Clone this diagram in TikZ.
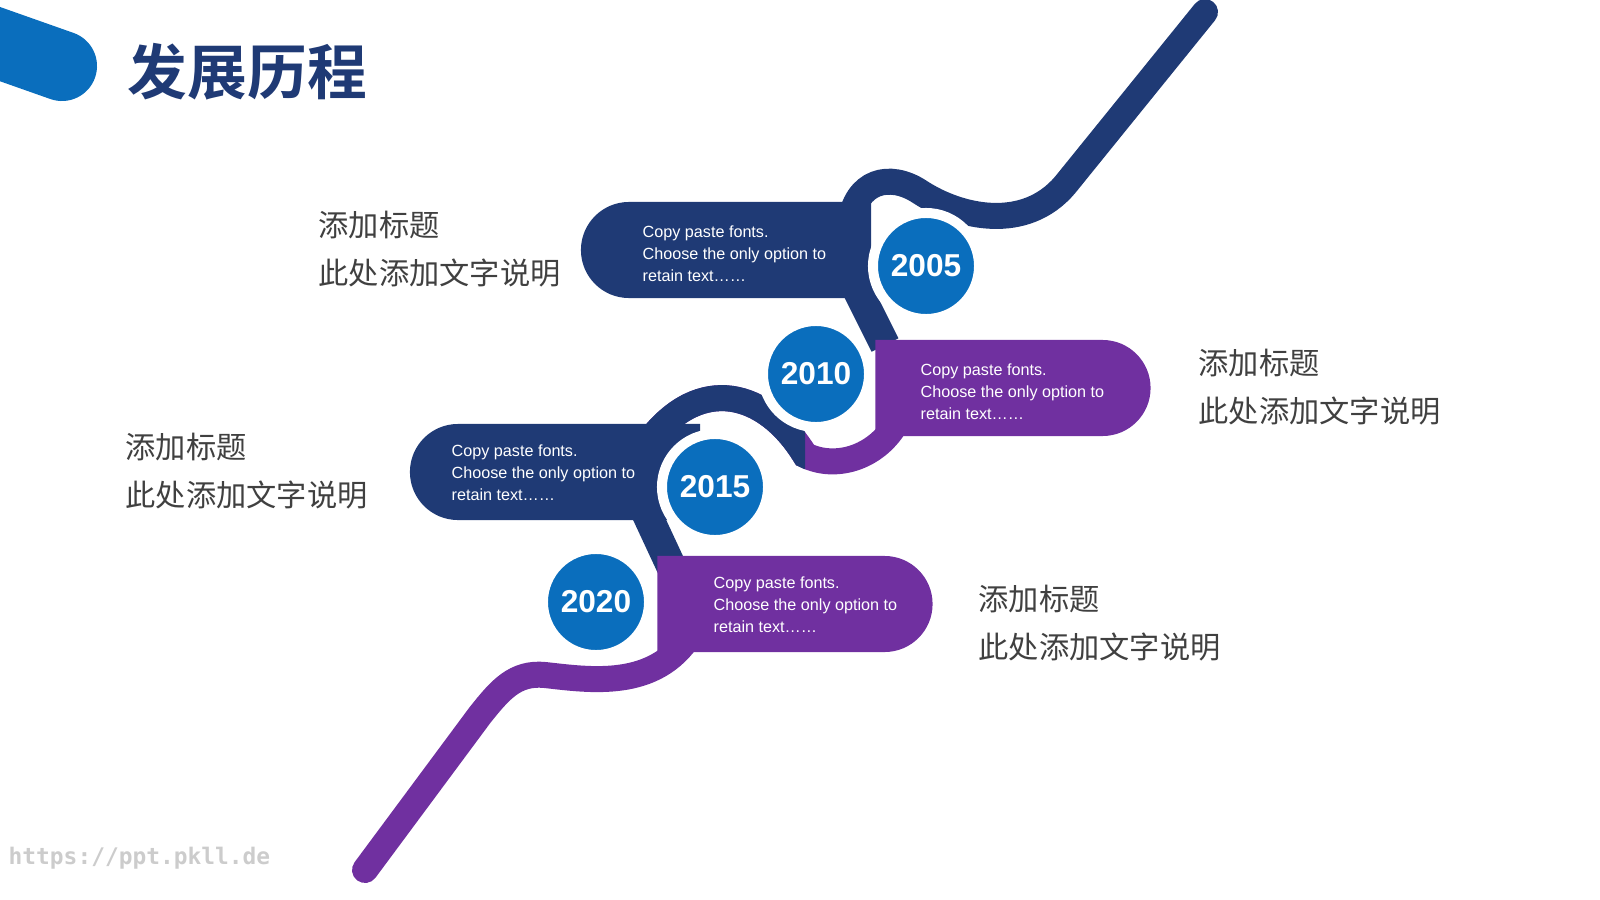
\documentclass[tikz,border=0pt]{standalone}
\usepackage{fontspec}
\setmainfont{Liberation Sans}
\newfontfamily\cjk{Noto Sans CJK SC}
\newfontfamily\cjkbold{Noto Sans CJK SC Bold}
\newfontfamily\markfont{DejaVu Sans Mono}
\usetikzlibrary{shapes.misc}
\definecolor{navy}{HTML}{1F3A75}
\definecolor{purp}{HTML}{7030A0}
\definecolor{yearblue}{HTML}{0A6EBD}
\definecolor{labelgray}{HTML}{404040}
\tikzset{
  band/.style={line width=0.26cm, line cap=round},
  pillL/.style={rounded rectangle, rounded rectangle east arc=none, minimum width=2.9cm, minimum height=0.96cm, inner sep=0pt},
  pillR/.style={rounded rectangle, rounded rectangle west arc=none, minimum width=2.75cm, minimum height=0.96cm, inner sep=0pt},
  pilltext/.style={anchor=west, align=left, text=white, font=\fontsize{4.6}{6.2}\selectfont, inner sep=0pt},
  yearnode/.style={circle, fill=yearblue, draw=white, line width=0.1cm, minimum size=1.06cm, text=white, font=\bfseries\fontsize{9}{10}\selectfont},
  headtext/.style={anchor=west, text=labelgray, font=\cjk\fontsize{8.6}{10}\selectfont, inner sep=0pt}
}
\begin{document}
\begin{tikzpicture}[x=0.01cm, y=-0.01cm]
        \useasboundingbox (0,0) rectangle (1600,900);
        % corner mark and title
        \draw[line width=0.7cm, line cap=round, yearblue] (-40,30) -- (62,66);
        \node[anchor=west, text=navy, font=\cjkbold\fontsize{17}{18}\selectfont, inner sep=0pt] (title) at (127,72) {发展历程};
        % snake band
        \draw[band, navy] (1205,12) -- (1065,185) .. controls (1025,232) and (960,218) .. (920,192) .. controls (890,172) and (855,180) .. (850,225);
        \draw[line width=0.3cm, navy] (855,285) -- (885,345);
        \draw[band, purp, line cap=butt] (650,440) .. controls (700,375) and (765,390) .. (805,455) .. controls (835,470) and (875,458) .. (895,425);
        \begin{scope}
          \clip (0,0) rectangle (805,900);
          \draw[band, navy, line cap=butt] (650,440) .. controls (700,375) and (765,390) .. (805,455) .. controls (835,470) and (875,458) .. (895,425);
        \end{scope}
        \draw[line width=0.3cm, navy] (645,510) -- (672,568);
        \draw[band, purp] (690,635) .. controls (655,690) and (590,680) .. (545,675) .. controls (515,672) and (500,690) .. (480,715) -- (365,870);
        % pills
        \node[pillL, fill=navy] (p1) at (726,250) {};
        \node[pilltext] (t1) at (642,254) {Copy paste fonts.\\Choose the only option to\\retain text……};
        \node[pillR, fill=purp] (p2) at (1013,388) {};
        \node[pilltext] (t2) at (920,392) {Copy paste fonts.\\Choose the only option to\\retain text……};
        \node[pillL, fill=navy] (p3) at (555,472) {};
        \node[pilltext] (t3) at (451,473) {Copy paste fonts.\\Choose the only option to\\retain text……};
        \node[pillR, fill=purp] (p4) at (795,604) {};
        \node[pilltext] (t4) at (713,605) {Copy paste fonts.\\Choose the only option to\\retain text……};
        % years
        \node[yearnode] (y1) at (926,266) {2005};
        \node[yearnode] (y2) at (816,374) {2010};
        \node[yearnode] (y3) at (715,487) {2015};
        \node[yearnode] (y4) at (596,602) {2020};
        % labels
        \node[headtext] (h1) at (318,225) {添加标题};
        \node[headtext] (d1) at (318,273) {此处添加文字说明};
        \node[headtext] (h2) at (1198,363) {添加标题};
        \node[headtext] (d2) at (1198,411) {此处添加文字说明};
        \node[headtext] (h3) at (125,447) {添加标题};
        \node[headtext] (d3) at (125,495) {此处添加文字说明};
        \node[headtext] (h4) at (978,599) {添加标题};
        \node[headtext] (d4) at (978,647) {此处添加文字说明};
        \node[anchor=west, text=black!20, font=\markfont\bfseries\fontsize{6.5}{7}\selectfont, inner sep=0pt] (mark) at (8,858) {https://ppt.pkll.de};
\end{tikzpicture}
\end{document}
